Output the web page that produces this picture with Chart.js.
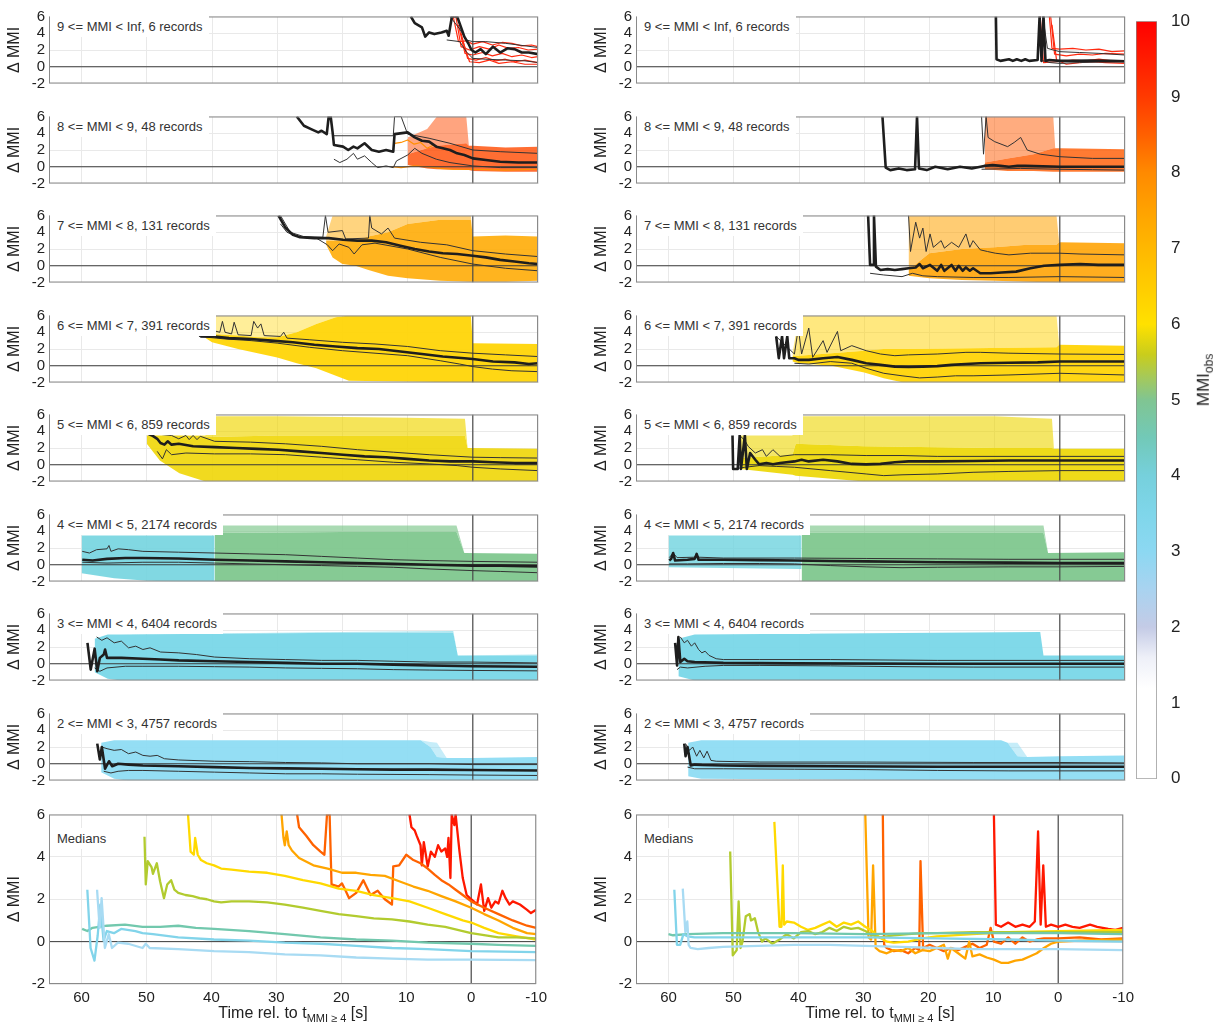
<!DOCTYPE html>
<html>
<head>
<meta charset="utf-8">
<script src="https://cdn.jsdelivr.net/npm/chart.js@4.4.1/dist/chart.umd.min.js"></script>
<style>
body{margin:0;width:1219px;height:1032px;background:#fff;position:relative;overflow:hidden;font-family:"Liberation Sans",Arial,Helvetica,sans-serif;}
canvas{position:absolute;}
.lbl{position:absolute;background:#fff;font-size:13px;color:#333;padding:3px 6px 3px 7px;white-space:nowrap;line-height:15px;}
.xt{position:absolute;font-size:16px;color:#222;white-space:nowrap;transform:translateX(-50%);}
.xt sub{font-size:11px;}
.cbt{position:absolute;font-size:17px;color:#222;white-space:nowrap;transform:translate(-50%,-50%) rotate(-90deg);}
.cbt sub{font-size:12px;}
</style>
</head>
<body>
<script>
Chart.defaults.font.family = '"Liberation Sans", Arial, sans-serif';
Chart.defaults.color = '#222';

// axis ranges
var tMin = -10, tMax = 65, dMin = -2, dMax = 6;
var zeroT = [tMin, tMax];
var zeroD = [dMin, dMax];

// colour bar (MMI_obs)
var cmapVals = [0, 1.2, 1.6, 2.0, 2.5, 3.0, 3.5, 4.0, 4.5, 5.0, 5.3, 5.6, 6.0, 6.5, 7.0, 7.5, 8.0, 8.5, 9.0, 9.5, 10];
var cmapColors = ['#ffffff','#ffffff','#eef0f8','#c4cbe6','#a9d3f0','#8cd8f2','#7fd6ea','#76d0dc','#72c9b8','#80c592','#a5c95a','#c9cd1c','#ffe100','#ffcc00','#ffb800','#ffa200','#ff8a00','#ff6000','#ff3a00','#ff1c00','#ff0000'];

// ---------- left column: time relative to t(MMI>=4), [t, value] ----------
var L9_med = [[9.5,6],[8.9,5.2],[7.8,4.7],[7.3,3.6],[6.7,4.1],[5.9,3.9],[4.8,4.1],[4.0,4.3],[3.7,3.7],[3.2,6],[2.4,6],[1.8,4.7],[1.3,3.6],[0.7,2.8],[0.2,2.0],[-0.4,1.7],[-1.2,2.1],[-2.0,1.5],[-3.1,2.4],[-4.2,1.7],[-5.3,2.2],[-6.4,2.1],[-7.5,1.7],[-8.6,1.7],[-10,1.5]];
var L9_hi = [[3.5,6],[2.0,4.5],[1.0,3.2],[0,3.0],[-2,3.0],[-5,2.8],[-8,2.5],[-10,2.3]];
var L9_lo = [[4.0,3.2],[2.0,3.0],[1.0,1.8],[0,1.0],[-2,0.9],[-5,0.8],[-8,0.7],[-10,0.5]];
var L9_recs = [
  [[3.0,6],[2.2,3.0],[1.0,3.1],[0,2.7],[-1.5,3.0],[-3,2.6],[-4.5,2.9],[-6,2.8],[-7.5,2.5],[-9,2.6],[-10,2.4]],
  [[2.6,6],[1.8,2.4],[0.5,2.0],[-1,2.4],[-2.5,2.1],[-4,2.6],[-5.5,2.2],[-7,2.3],[-8.5,2.0],[-10,2.1]],
  [[2.2,5],[1.2,1.6],[0,1.4],[-1.5,1.7],[-3,1.3],[-4.5,1.6],[-6,1.2],[-7.5,1.4],[-9,1.1],[-10,1.2]],
  [[1.8,4],[0.8,1.0],[-0.5,0.8],[-2,1.1],[-3.5,0.7],[-5,0.9],[-6.5,0.6],[-8,0.8],[-10,0.5]],
  [[1.5,3],[0.5,0.6],[-1,0.5],[-2.5,0.8],[-4,0.4],[-6,0.6],[-8,0.3],[-10,0.3]]
];

var L8_med = [[27,6],[25.9,4.9],[24.8,4.5],[23.7,4.1],[23.2,4.3],[22.4,3.9],[22.1,6],[21.8,6],[21.5,4.1],[21.3,2.6],[19.9,2.4],[19.1,2.0],[18.3,2.4],[17.7,2.2],[16.6,2.8],[15.5,2.0],[14.4,1.8],[13.3,2.0],[12.2,1.8],[12.0,3.9],[10.0,4.1],[8.9,3.5],[7.8,3.1],[6.7,3.0],[5.6,2.4],[4.6,2.2],[3.5,2.0],[2.4,1.6],[1.3,1.4],[0,1.0],[-2,0.8],[-4.2,0.6],[-7,0.5],[-10,0.5]];
var L8_hi = [[21.5,3.7],[12.2,3.7],[12.0,6],[11.0,6],[10.0,3.9],[6.7,3.4],[3.5,2.8],[0,2.0],[-4.2,1.8],[-10,1.6]];
var L8_lo = [[21.3,0.9],[20.4,0.5],[19.3,0.9],[18.3,1.6],[17.7,0.9],[16.6,1.3],[15.5,0.5],[14.6,-0.1],[13.3,0.1],[12.2,-0.1],[11.7,0.7],[10.0,1.4],[8.9,2.2],[7.8,1.6],[5.6,0.9],[3.5,0.5],[0,0.1],[-4.2,-0.1],[-10,-0.1]];
var L8_recs = [
  [[12.5,0],[11,-0.1],[9,0.1],[7,0],[5,-0.2],[3,-0.3],[0,-0.3],[-5,-0.4],[-10,-0.3]],
  [[12,2.8],[11,2.9],[10,3.2],[9,2.7],[8,2.9],[7,2.2],[6,2.6],[5,2.3]]
];
var L8_band = [[10,0.2,1.5,3.5],[7,-0.2,2.2,4.5],[5.5,-0.3,2.5,6],[1,-0.4,2.8,6],[0.6,-0.4,2.5,2.5],[0,-0.5,2.5,2.5],[-5,-0.6,2.3,2.3],[-10,-0.6,2.4,2.4]];

var L7_med = [[29.8,6],[28.7,4.5],[27.6,3.7],[26.5,3.4],[24.3,3.3],[22.1,3.3],[19.9,3.1],[17.7,3.0],[15.5,3.0],[13.3,2.8],[11.1,2.4],[8.9,2.0],[6.7,1.7],[4.6,1.5],[2.4,1.4],[0,1.2],[-2,1.0],[-4.2,0.7],[-6.4,0.5],[-8.6,0.3],[-10,0.2]];
var L7_hi = [[29.5,6],[28,4.0],[26,3.5],[23,3.4],[22.6,6],[22.2,4.0],[20,4.2],[19.5,3.2],[16,3.3],[15.8,6],[15.5,4.5],[14,3.8],[13,4.5],[12,3.3],[8,2.8],[4,2.5],[0,1.8],[-5,1.4],[-10,1.1]];
var L7_lo = [[29.5,5.0],[28.5,4.0],[27,3.5],[24,3.3],[22.3,2.5],[21.5,1.8],[20.5,2.6],[19,2.2],[18.2,1.4],[17,2.5],[15,2.7],[10,2.0],[5,1.0],[0,0.2],[-5,-0.3],[-10,-0.6]];
var L7_band = [[22.5,2.5,3.0,3.5],[21.5,1.0,3.0,6],[20,0.2,3.0,6],[18,0,3.0,6],[16,-0.5,3.5,6],[13,-1.2,4.0,6],[10,-1.5,5.0,6],[5,-1.8,5.5,6],[0.3,-1.9,5.5,6],[0,-1.9,3.5,3.5],[-5,-1.9,3.6,3.6],[-10,-1.8,3.5,3.5]];

var L6_med = [[41.8,3.5],[39.6,3.5],[37.4,3.3],[34.1,3.2],[30.9,3.0],[27.6,2.8],[24.3,2.5],[21.0,2.3],[17.7,2.1],[14.4,2.0],[11.1,1.7],[7.8,1.4],[4.6,1.1],[1.3,0.9],[0,0.8],[-3.1,0.5],[-6.4,0.4],[-8.6,0.2],[-10,0.3]];
var L6_hi = [[40.5,4.0],[40.2,5.5],[39.8,4.2],[38.8,4.0],[38.4,5.3],[38,4.0],[37,3.8],[36.6,5.2],[36,3.7],[34,3.6],[33.6,5.3],[33,4.5],[32.5,5.0],[32,3.6],[29.5,3.5],[29,4.0],[28.5,3.3],[25,3.1],[20,2.8],[15,2.6],[10,2.3],[5,1.8],[0,1.5],[-5,1.3],[-10,1.1]];
var L6_lo = [[42,3.5],[38,3.2],[34,3.0],[30,2.7],[25,2.2],[20,1.8],[15,1.5],[10,1.2],[5,0.6],[2,0.2],[0,-0.1],[-3,-0.4],[-6,-0.6],[-10,-0.7]];
var L6_band = [[41,3.3,3.8,3.8],[40,2.8,3.8,6],[36,2.0,3.6,6],[33,1.5,3.4,6],[30,1.0,3.4,6],[27,0.3,4.0,6],[24,-0.3,5.0,6],[21,-1.2,5.8,6],[19,-1.8,6,6],[0.3,-2,6,6],[0,-2,2.7,2.7],[-10,-2,2.6,2.6]];

var L5_med = [[49.8,3.7],[49.2,3.5],[48.4,3.1],[47.9,2.6],[47.3,2.4],[46.8,2.8],[46.2,2.4],[45.1,2.5],[42.9,2.2],[39.6,2.1],[36.3,2.0],[33.1,1.9],[29.8,1.8],[26.5,1.6],[23.2,1.4],[19.9,1.2],[16.6,1.0],[13.3,0.9],[10.0,0.7],[6.7,0.5],[3.5,0.4],[0,0.4],[-3.1,0.3],[-6.4,0.2],[-10,0.2]];
var L5_hi = [[49,3.7],[46.2,3.5],[45.1,3.1],[44,3.5],[43.5,3.0],[42.9,3.5],[42.3,3.0],[41.8,3.4],[39.6,2.8],[34.1,2.7],[28.7,2.5],[23.2,2.2],[17.7,1.8],[12.2,1.5],[6.7,1.2],[0,0.9],[-4.2,0.85],[-10,0.8]];
var L5_lo = [[48.4,1.6],[47.6,0.7],[47.0,1.8],[46.2,1.2],[44,1.4],[39.6,1.3],[34.1,1.3],[28.7,1.2],[23.2,0.9],[17.7,0.6],[12.2,0.3],[6.7,0.1],[2.4,-0.1],[0,-0.3],[-4.2,-0.5],[-10,-0.7]];
var L5_band = [[50,2.5,3.5,3.5],[48,0.5,3.5,3.5],[45,-1.0,3.5,3.5],[41,-2,3.4,3.5],[40.5,-2,3.3,5.8],[30,-2,3.5,5.8],[20,-2,3.5,5.7],[10,-2,3.5,5.6],[1.2,-2,3.5,5.5],[0.8,-2,2.0,2.0],[-10,-2,1.9,1.9]];

var L4_med = [[59.9,0.6],[58.3,0.5],[56.1,0.7],[53.3,0.8],[50.6,0.8],[45.1,0.75],[39.6,0.6],[34.2,0.5],[28.7,0.4],[23.2,0.3],[17.7,0.2],[12.2,0.1],[6.7,0],[0,-0.1],[-4.2,-0.1],[-10,-0.2]];
var L4_hi = [[59.9,1.6],[58.8,1.4],[57.7,1.8],[56.1,1.9],[55.8,2.3],[55.5,1.6],[54.4,1.9],[52.8,1.8],[50.6,1.6],[45.1,1.5],[39.6,1.4],[34.2,1.3],[28.7,1.2],[23.2,1.0],[17.7,0.8],[12.2,0.6],[6.7,0.5],[0,0.4],[-10,0.3]];
var L4_lo = [[59.9,0.3],[56.1,0.2],[50.6,0.3],[45.1,0.3],[39.6,0.2],[34.2,0.1],[28.7,0],[23.2,-0.1],[17.7,-0.2],[12.2,-0.3],[6.7,-0.5],[0,-0.7],[-4.2,-0.8],[-10,-0.95]];
var L4_bandA = [[60,-1.0,3.5,3.5],[55,-1.6,3.5,3.5],[50,-1.9,3.5,3.5],[45,-2,3.5,3.5],[39.6,-2,3.5,3.5]];
var L4_bandB = [[39.6,-2,3.8,4.7],[20,-2,3.9,4.7],[2.5,-2,3.9,4.7],[1.3,-2,1.4,1.4],[-10,-2,1.3,1.3]];

var L3_med = [[59.1,2.5],[58.6,-0.7],[58.0,1.8],[57.6,-0.9],[57.2,0.7],[56.6,1.1],[56.4,1.7],[56.1,0.7],[53.9,0.7],[50.6,0.6],[47.9,0.5],[45.1,0.4],[39.6,0.3],[34.2,0.2],[28.7,0.1],[23.2,0],[17.7,0],[12.2,-0.1],[6.7,-0.2],[0,-0.3],[-10,-0.35]];
var L3_hi = [[57.7,3.2],[56.9,2.8],[56.1,3.1],[55.0,2.5],[53.9,2.7],[52.8,1.9],[51.7,2.1],[50.6,1.7],[49.5,1.9],[47.9,1.4],[45.1,1.3],[42.4,1.1],[39.6,0.8],[34.2,0.6],[28.7,0.5],[23.2,0.4],[17.7,0.4],[12.2,0.3],[6.7,0.2],[0,0.2],[-10,0.1]];
var L3_lo = [[58.0,-0.5],[57.2,-0.9],[56.1,-0.5],[53.3,-0.3],[50.6,-0.3],[45.1,-0.3],[39.6,-0.35],[34.2,-0.4],[28.7,-0.5],[23.2,-0.55],[17.7,-0.6],[12.2,-0.7],[6.7,-0.75],[0,-0.8],[-10,-0.85]];
var L3_band = [[58,-1.0,3.0,3.0],[56,-1.8,3.5,3.5],[54,-2,3.5,3.5],[20,-2,3.7,3.8],[3,-2,3.7,3.9],[2.3,-2,1.0,1.0],[-10,-2,1.0,1.1]];

var L2_med = [[57.6,2.4],[57.2,0.5],[56.9,2.0],[56.4,-0.6],[55.8,0.3],[55.3,-0.3],[54.4,0],[52.8,-0.1],[50.6,-0.2],[45.1,-0.3],[39.6,-0.4],[34.2,-0.5],[28.7,-0.55],[23.2,-0.6],[17.7,-0.65],[12.2,-0.7],[6.7,-0.7],[0,-0.75],[-10,-0.8]];
var L2_hi = [[56.9,2.0],[56.1,1.8],[55.0,1.6],[53.9,1.7],[52.8,1.2],[51.7,1.4],[50.6,1.0],[49.5,0.9],[48.4,1.0],[47.3,0.6],[45.1,0.45],[39.6,0.3],[34.2,0.25],[28.7,0.15],[23.2,0.1],[17.7,0],[6.7,0],[0,-0.1],[-10,-0.1]];
var L2_lo = [[56.6,-0.9],[55.5,-1.1],[54.4,-0.9],[52.8,-0.8],[50.6,-0.8],[45.1,-0.9],[39.6,-1.0],[34.2,-1.1],[28.7,-1.2],[23.2,-1.2],[17.7,-1.25],[6.7,-1.3],[0,-1.35],[-10,-1.4]];
var L2_band = [[57,-1.0,2.5,2.5],[55,-1.8,2.8,2.8],[53,-2,2.8,2.8],[8,-2,2.8,2.8],[6.5,-2,2.0,2.6],[5.5,-2,0.8,2.5],[4.0,-2,0.7,0.7],[0,-2,0.7,0.7],[-10,-2,0.8,0.8]];

// ---------- right column ----------
var R9_med = [[9.8,6],[9.7,0.9],[9.1,0.7],[7.8,0.9],[7.2,0.7],[6.6,0.9],[5.9,0.7],[5.3,0.9],[4.7,0.7],[3.4,0.8],[3.1,6],[2.8,0.7],[2.5,6],[2.2,0.7],[1.6,0.8],[0,0.7],[-1.6,0.7],[-4.7,0.75],[-7.8,0.7],[-10,0.65]];
var R9_hi = [[2.6,6],[1.9,2.2],[1.0,2.0],[0,1.8],[-3,1.7],[-6,1.6],[-10,1.4]];
var R9_lo = [[3.0,0.8],[1.5,0.5],[0,0.4],[-3,0.5],[-6,0.55],[-10,0.6]];
var R9_recs = [
  [[1.6,6],[1.2,2.2],[0,2.1],[-2,2.2],[-4,2.0],[-6,2.1],[-8,1.8],[-10,1.9]],
  [[1.4,6],[0.8,1.5],[-1,1.3],[-3,1.5],[-5,1.4],[-7,1.6],[-10,1.5]],
  [[1.2,5],[0.5,0.8],[-1,0.3],[-3,0.5],[-5,0.6],[-7,0.5],[-10,0.4]],
  [[3.0,6],[2.5,0.5],[0.5,0.6],[-2,0.8],[-4,0.7],[-6,0.9],[-8,0.7],[-10,0.6]]
];

var R8_med = [[27.2,6],[26.7,-0.1],[26.0,-0.4],[24.7,-0.2],[23.5,-0.4],[22.2,-0.3],[21.9,6],[21.6,-0.2],[20.4,-0.4],[19.1,0],[17.2,-0.3],[15.3,0],[13.5,-0.2],[11.6,0.1],[10.3,0.2],[9.1,0.1],[7.8,0],[6.5,0.1],[5.3,0.1],[0,0],[-4.7,0],[-10,0]];
var R8_hi = [[12.0,6],[11.7,1.5],[11.3,6],[11.0,3.5],[10,3.0],[8,2.4],[7,2.9],[6,3.5],[5,2.0],[3,1.5],[0,1.2],[-5,1.0],[-10,1.0]];
var R8_lo = [[12.0,-0.3],[6,-0.2],[0,-0.3],[-5,-0.35],[-10,-0.4]];
var R8_band = [[11.5,-0.3,0.5,6],[8,-0.5,1.0,6],[4,-0.5,1.5,6],[1.0,-0.6,2.2,6],[0.7,-0.6,2.2,2.2],[0,-0.6,2.2,2.2],[-10,-0.6,2.1,2.1]];

var R7_med = [[29.4,6],[29.1,0.1],[28.6,0.1],[28.5,6],[28.2,-0.1],[27.5,-0.5],[26.4,-0.4],[25.3,-0.5],[24.2,-0.4],[23.2,-0.3],[22.1,-0.2],[21.5,0.2],[21.0,-0.3],[19.9,0.1],[18.8,-0.6],[18.2,0.1],[17.7,-0.6],[16.6,0.1],[16.0,-0.6],[15.5,0],[14.9,-0.6],[14.4,-0.2],[13.8,-0.6],[13.3,-0.3],[12.2,-0.9],[10.6,-0.9],[8.9,-0.8],[6.7,-0.7],[4.5,-0.3],[2.4,0],[0,0.1],[-3.1,0.2],[-5.9,0.1],[-10,0.1]];
var R7_hi = [[23.2,6],[22.9,1.7],[22.1,5.2],[21.5,3.3],[21.0,4.5],[20.5,1.7],[19.9,3.8],[19.4,2.2],[18.2,3.0],[17.7,2.1],[16.6,2.8],[15.5,2.2],[14.4,3.8],[13.8,2.2],[13.3,3.0],[12.2,1.9],[11.1,1.7],[9.9,1.5],[7.8,1.3],[4.5,1.5],[0,1.5],[-3.1,1.4],[-10,1.3]];
var R7_lo = [[29.1,-0.9],[27.0,-1.1],[24.2,-1.3],[22.6,-0.9],[21.0,-1.2],[18.8,-1.3],[13.3,-1.4],[7.8,-1.4],[0,-1.3],[-10,-1.4]];
var R7_band = [[23.2,-1.2,-0.5,6],[20,-1.5,1.5,6],[15,-1.7,2.0,6],[10,-1.8,2.2,6],[5,-1.9,2.5,6],[0.5,-2,2.5,6],[0.1,-2,2.8,2.8],[-10,-2,2.7,2.7]];

var R6_med = [[43.5,3.5],[43.1,0.9],[42.6,3.5],[42.3,0.9],[41.8,3.5],[41.5,0.9],[40.7,0.9],[40.1,0.7],[38.5,0.7],[36.3,0.9],[34.1,1.05],[31.9,0.7],[29.7,0.3],[27.5,0.1],[25.3,-0.1],[23.2,-0.15],[21.0,-0.1],[18.8,-0.05],[16.6,0.1],[14.4,0.2],[12.2,0.3],[7.8,0.35],[3.4,0.4],[0,0.5],[-3.1,0.5],[-10,0.5]];
var R6_hi = [[43.5,3.5],[40.7,1.4],[40.1,4.5],[39.6,1.4],[38.5,4.5],[37.9,1.0],[36.3,3.0],[35.7,1.6],[34.1,4.1],[33.6,1.8],[31.9,2.4],[29.7,1.8],[27.5,1.4],[25.3,1.2],[23.2,1.3],[18.8,1.4],[14.4,1.6],[12.2,1.6],[7.8,1.5],[0,1.4],[-10,1.35]];
var R6_lo = [[40.7,0.3],[38.5,0.2],[35.2,0.5],[31.9,0.3],[29.7,-0.3],[27.0,-0.9],[24.2,-1.2],[21.5,-1.45],[18.8,-1.35],[16.0,-1.2],[13.3,-1.2],[7.8,-1.1],[0,-0.9],[-10,-1.1]];
var R6_band = [[41,0.5,1.2,1.5],[40,0.3,1.2,6],[35,0,1.5,6],[30,-0.8,1.8,6],[27,-1.5,2.0,6],[24,-2,2.0,6],[0.5,-2,2.2,6],[0.1,-2,2.5,2.5],[-10,-2,2.4,2.4]];

var R5_med = [[50.2,3.5],[50.1,-0.5],[49.4,-0.5],[49.1,3.5],[48.9,-0.5],[48.3,3.5],[48.0,-0.5],[47.5,1.4],[46.7,0.6],[46.1,0.05],[45.0,0.2],[44.0,0.05],[42.9,0.2],[40.7,0.4],[39.6,0.6],[38.5,0.4],[36.3,0.6],[34.1,0.4],[31.9,0.1],[29.7,0.05],[27.5,0.1],[25.3,0.3],[23.2,0.4],[18.8,0.4],[13.3,0.45],[7.8,0.5],[0,0.5],[-10,0.5]];
var R5_hi = [[49.1,3.5],[48.3,2.9],[47.8,2.2],[46.7,1.4],[45.6,1.8],[45.0,1.0],[44.0,1.8],[42.9,1.0],[40.7,1.2],[35.2,1.2],[29.7,1.1],[24.2,1.1],[18.8,1.0],[0,1.0],[-10,1.0]];
var R5_lo = [[50.0,-0.5],[48.3,-0.3],[46.1,-0.1],[43.4,-0.2],[40.7,-0.3],[35.2,-0.7],[29.7,-1.1],[27.0,-1.3],[24.2,-1.2],[18.8,-1.1],[13.3,-0.9],[7.8,-0.8],[0,-0.7],[-10,-0.7]];
var R5_band = [[49,-0.5,0.8,3.5],[41,-1.2,1.2,3.5],[40.5,-1.3,2.5,5.8],[30,-2,2.2,5.8],[10,-2,2.0,5.8],[1.2,-2,2.0,5.5],[0.9,-2,1.9,1.9],[-10,-2,1.9,1.9]];

var R4_med = [[59.9,0.5],[59.6,0.7],[59.3,1.4],[59.0,0.5],[57.1,0.6],[56.0,0.7],[55.7,1.3],[55.4,0.6],[51.6,0.6],[46.1,0.55],[40.7,0.5],[35.2,0.45],[29.7,0.4],[24.2,0.35],[18.8,0.3],[7.8,0.25],[0,0.2],[-10,0.2]];
var R4_hi = [[59.9,0.85],[59.3,1.4],[58.7,0.85],[56.0,0.9],[55.7,1.3],[55.4,0.9],[51.6,0.8],[40.7,0.8],[29.7,0.75],[18.8,0.7],[7.8,0.65],[0,0.65],[-10,0.65]];
var R4_lo = [[59.9,0.1],[57.1,0.1],[51.6,0.15],[46.1,0.15],[40.7,0.1],[35.2,-0.1],[29.7,-0.25],[24.2,-0.35],[18.8,-0.3],[7.8,-0.25],[0,-0.25],[-10,-0.2]];
var R4_bandA = [[60,-0.3,3.5,3.5],[40,-0.5,3.5,3.5],[39.6,-0.5,3.5,3.5]];
var R4_bandB = [[39.6,-2,3.8,4.7],[2.5,-2,3.8,4.7],[1.8,-2,1.4,1.4],[-10,-2,1.5,1.5]];

var R3_med = [[59.0,2.5],[58.7,-0.2],[58.5,3.2],[58.2,0.2],[57.6,0.6],[57.1,0.3],[56.0,0.2],[51.6,0.1],[40.7,0.05],[18.8,0],[0,0],[-10,0]];
var R3_hi = [[58.2,3.2],[57.6,2.5],[57.1,2.8],[56.5,2.1],[56.0,2.5],[55.4,1.7],[54.9,1.3],[54.4,1.5],[53.8,1.0],[52.7,0.6],[51.6,0.5],[46.1,0.5],[35.2,0.5],[18.8,0.4],[0,0.4],[-10,0.4]];
var R3_lo = [[58.7,-0.7],[58.2,-0.4],[57.1,-0.5],[54.4,-0.3],[51.6,-0.2],[46.1,-0.2],[35.2,-0.25],[24.2,-0.35],[13.3,-0.4],[0,-0.4],[-10,-0.4]];
var R3_band = [[58.5,-1.5,3.0,3.0],[56,-2,3.5,3.5],[3,-2,3.8,3.8],[2.5,-2,1.0,1.0],[-10,-2,1.0,1.0]];

var R2_med = [[57.6,2.4],[57.4,0.9],[57.1,2.0],[56.6,-0.2],[56.0,-0.1],[54.9,-0.15],[51.6,-0.2],[46.1,-0.25],[35.2,-0.3],[18.8,-0.35],[0,-0.35],[-10,-0.35]];
var R2_hi = [[57.4,2.4],[56.8,1.6],[56.3,2.0],[55.7,0.9],[55.2,1.6],[54.6,0.7],[54.1,1.5],[53.5,0.4],[52.7,0.3],[46.1,0.2],[29.7,0.2],[13.3,0.15],[0,0.15],[-10,0.1]];
var R2_lo = [[57.1,-0.4],[56.0,-0.6],[51.6,-0.6],[40.7,-0.65],[29.7,-0.7],[18.8,-0.8],[7.8,-0.85],[0,-0.85],[-10,-0.85]];
var R2_band = [[57,-1.5,2.5,2.5],[55,-1.8,2.8,2.8],[9,-2,2.8,2.8],[8,-2,2.5,2.5],[6.5,-2,0.9,2.5],[5,-2,0.8,0.8],[0,-2,0.9,0.9],[-10,-2,1.0,1.0]];

// ---------- medians panels ----------
var ML2 = [[57.6,2.45],[57.2,0.65],[56.9,2.05],[56.4,-0.3],[55.8,0.35],[55.3,-0.3],[54.4,-0.05],[52.8,-0.1],[50.6,-0.3],[50.1,-0.1],[49.5,-0.3],[45.1,-0.35],[39.6,-0.45],[34.2,-0.5],[28.7,-0.6],[23.2,-0.65],[17.7,-0.75],[12.2,-0.8],[6.7,-0.85],[0,-0.85],[-10,-0.87]];
var ML3 = [[59.1,2.45],[58.6,-0.3],[58.0,-0.9],[57.5,0.3],[57.1,1.75],[56.6,0.05],[56.1,0.5],[55.0,0.4],[53.9,0.6],[51.7,0.5],[50.6,0.4],[49.0,0.35],[45.1,0.2],[39.6,0.1],[34.2,0.05],[28.7,-0.05],[23.2,-0.1],[17.7,-0.2],[12.2,-0.3],[6.7,-0.35],[0,-0.45],[-10,-0.5]];
var ML4 = [[59.9,0.6],[59.1,0.5],[58.3,0.65],[56.1,0.75],[53.3,0.8],[50.6,0.7],[47.9,0.7],[45.1,0.75],[42.4,0.65],[39.6,0.6],[34.2,0.5],[28.7,0.35],[23.2,0.2],[17.7,0.1],[12.2,0.05],[6.7,-0.05],[0,-0.1],[-4.2,-0.15],[-10,-0.2]];
var ML5 = [[50.3,4.95],[50.1,2.7],[49.8,3.8],[49.2,3.5],[49.0,3.2],[48.4,3.7],[47.9,2.85],[47.3,2.05],[46.8,2.7],[46.2,2.9],[45.7,2.45],[45.1,2.3],[44.0,2.2],[42.9,2.15],[41.8,2.05],[40.7,2.0],[39.6,1.9],[38.5,1.85],[36.9,1.9],[34.2,1.9],[31.4,1.85],[28.7,1.75],[25.9,1.6],[23.2,1.45],[20.4,1.3],[17.7,1.2],[15.0,1.1],[12.2,1.05],[9.5,0.95],[6.7,0.8],[4.0,0.7],[1.3,0.5],[0,0.4],[-4.2,0.2],[-7.0,0.2],[-10,0.15]];
var ML6 = [[43.6,6],[43.2,4.25],[42.7,4.1],[42.5,4.9],[42.1,4.1],[41.6,3.85],[40.7,3.7],[39.6,3.6],[38.5,3.45],[36.9,3.4],[34.2,3.3],[31.4,3.25],[28.7,3.1],[25.9,2.9],[23.2,2.75],[20.4,2.5],[17.7,2.4],[15.0,2.2],[12.2,2.05],[9.5,1.9],[6.7,1.6],[4.0,1.3],[1.3,1.0],[0,0.9],[-2.0,0.65],[-4.2,0.4],[-7.0,0.25],[-10,0.1]];
var ML7 = [[29.2,6],[28.9,4.9],[28.7,4.55],[28.4,5.2],[28.1,4.55],[27.6,4.3],[26.5,3.95],[24.3,3.6],[22.1,3.45],[19.9,3.25],[17.7,3.25],[15.5,3.15],[13.3,3.1],[11.1,2.85],[8.9,2.6],[6.7,2.4],[4.6,2.15],[2.4,1.9],[0,1.6],[-2.0,1.3],[-4.2,1.0],[-6.4,0.65],[-8.6,0.4],[-10,0.35]];
var ML8 = [[26.8,6],[26.5,5.4],[25.4,5.0],[24.3,4.55],[23.2,4.25],[22.6,4.1],[22.2,6],[21.8,6],[21.5,2.7],[20.4,2.6],[19.9,2.75],[19.4,2.45],[18.8,2.05],[17.7,2.3],[16.6,2.9],[15.5,2.2],[14.4,2.4],[13.3,2.0],[12.2,1.75],[12.0,3.55],[11.1,3.6],[10.0,4.1],[8.9,3.85],[7.8,3.7],[6.7,3.45],[5.6,3.15],[4.6,2.9],[3.5,2.7],[2.4,2.45],[1.3,2.2],[0,1.9],[-2.0,1.6],[-4.2,1.3],[-6.4,1.0],[-8.6,0.75],[-10,0.65]];
var ML9 = [[9.5,6],[9.2,5.4],[8.7,5.25],[8.4,5.0],[7.8,4.55],[7.6,3.6],[7.3,4.7],[6.7,3.55],[6.2,4.25],[5.6,4.0],[5.1,4.55],[4.6,4.25],[4.0,4.4],[3.7,4.0],[3.5,4.9],[3.2,3.0],[3.0,6],[2.6,5.5],[2.4,6],[1.8,4.25],[1.3,3.0],[0.7,2.2],[0.2,2.05],[-0.4,1.9],[-0.9,1.75],[-1.5,2.7],[-2.0,1.45],[-2.6,2.05],[-3.1,1.6],[-3.7,1.9],[-4.2,1.8],[-4.8,2.4],[-5.3,2.05],[-5.9,1.75],[-6.4,1.9],[-7.5,1.75],[-8.6,1.5],[-9.2,1.35],[-10,1.5]];

var MR2 = [[57.8,2.5],[57.4,0.45],[57.1,0.95],[56.9,-0.15],[56.6,-0.3],[55.5,-0.35],[53.8,-0.3],[51.6,-0.25],[46.2,-0.2],[40.7,-0.15],[35.2,-0.15],[29.7,-0.2],[24.2,-0.25],[18.7,-0.3],[13.2,-0.35],[0,-0.35],[-10,-0.4]];
var MR3 = [[59.1,2.45],[58.7,-0.15],[58.2,-0.15],[57.7,0.35],[57.1,0.25],[56.0,0.2],[51.6,0.2],[40.7,0.2],[29.7,0.2],[18.7,0.15],[7.7,0.1],[0,0.05],[-10,0]];
var MR4 = [[60,0.35],[59.3,0.3],[57.1,0.35],[51.6,0.4],[40.7,0.4],[29.7,0.35],[18.7,0.4],[0,0.4],[-10,0.35]];
var MR5 = [[50.5,4.25],[50.1,-0.65],[49.5,-0.4],[49.2,1.9],[48.9,-0.3],[48.6,0],[48.1,1.2],[47.5,1.3],[47.3,1.0],[46.7,1.1],[46.2,0.45],[45.6,0],[45.1,0.15],[44.0,-0.1],[42.9,0.1],[41.8,0.35],[40.7,0.15],[39.6,0.45],[38.5,0.5],[37.4,0.35],[36.3,0.45],[35.2,0.65],[34.1,0.5],[33.0,0.7],[31.9,0.6],[30.8,0.65],[29.7,0.5],[28.6,0.3],[27.5,0.2],[25.3,0.3],[23.1,0.35],[20.9,0.4],[18.7,0.4],[13.2,0.45],[7.7,0.45],[0,0.45],[-10,0.45]];
var MR6 = [[43.7,5.65],[42.9,0.7],[42.6,0.7],[42.4,3.6],[42.2,0.8],[41.8,0.95],[40.7,0.9],[39.6,0.7],[38.5,0.55],[37.4,0.65],[36.3,0.8],[35.2,0.95],[34.1,0.7],[33.0,0.9],[31.9,0.8],[30.8,0.95],[29.7,0.7],[28.6,0.5],[27.5,0.2],[26.4,0],[25.3,-0.05],[23.1,0],[20.9,0.15],[18.7,0.25],[13.2,0.35],[7.7,0.45],[0,0.5],[-10,0.55]];
var MR7 = [[29.7,6],[29.2,0.2],[28.8,0.1],[28.5,3.6],[28.1,-0.3],[27.5,-0.45],[26.4,-0.55],[25.3,-0.4],[24.2,-0.45],[23.1,-0.3],[22.0,-0.55],[20.9,-0.4],[19.8,-0.45],[18.7,-0.3],[17.6,-0.15],[17.0,-0.8],[16.5,-0.3],[15.4,-0.55],[14.3,-0.8],[13.7,0],[13.2,-0.7],[12.1,-0.6],[11.0,-0.75],[9.9,-0.85],[8.8,-1.0],[7.7,-1.0],[6.6,-0.9],[5.5,-0.85],[4.4,-0.7],[3.3,-0.55],[2.2,-0.3],[1.1,-0.1],[0,0],[-3.3,0.05],[-10,0.1]];
var MR8 = [[27.0,6],[26.8,-0.15],[26.4,-0.3],[25.3,-0.45],[24.2,-0.4],[23.1,-0.55],[22.0,-0.3],[21.4,-0.4],[21.2,3.8],[20.8,-0.3],[19.8,-0.15],[18.7,-0.3],[17.6,-0.45],[16.5,-0.3],[15.4,-0.4],[14.3,-0.25],[13.2,-0.1],[12.1,-0.3],[11.0,-0.15],[10.4,0.65],[9.9,0],[8.8,-0.1],[7.7,0.2],[6.6,-0.1],[5.5,0.2],[4.4,0],[3.3,0.1],[2.2,0.15],[0,0.15],[-3.3,0.2],[-6.6,0.1],[-10,0.15]];
var MR9 = [[9.9,6],[9.6,0.8],[8.8,0.7],[7.7,0.9],[6.6,0.7],[5.5,0.8],[4.4,0.7],[3.6,0.95],[3.1,5.2],[2.7,0.8],[2.3,3.6],[1.9,0.7],[1.1,0.8],[0,0.7],[-1.1,0.8],[-2.2,0.7],[-3.3,0.65],[-4.9,0.8],[-6.0,0.7],[-7.7,0.6],[-8.8,0.55],[-10,0.65]];

var medLabels = ['2 <= MMI < 3','3 <= MMI < 4','4 <= MMI < 5','5 <= MMI < 6','6 <= MMI < 7','7 <= MMI < 8','8 <= MMI < 9','9 <= MMI < Inf'];

// ---------- helpers ----------
function xy(p) { return p.map(function (r) { return {x: r[0], y: r[1]}; }); }
function col(p, k) { return p.map(function (r) { return {x: r[0], y: r[k]}; }); }
function rgba(hex, a) {
  var n = parseInt(hex.slice(1), 16);
  return 'rgba(' + (n >> 16) + ',' + ((n >> 8) & 255) + ',' + (n & 255) + ',' + a + ')';
}
function line(data, color, width, order) {
  return {data: xy(data), borderColor: color, borderWidth: width, order: order, fill: false};
}
var clear = 'rgba(0,0,0,0)';
function bandSets(b) {
  return [
    {data: col(b.d, 1), borderColor: clear, borderWidth: 0, fill: false, order: 10},
    {data: col(b.d, 2), borderColor: clear, borderWidth: 0, fill: '-1', backgroundColor: rgba(b.c, b.ca), order: 10},
    {data: col(b.d, 3), borderColor: clear, borderWidth: 0, fill: '-1', backgroundColor: rgba(b.c, b.ta), order: 10}
  ];
}
function refSets() {
  return [
    {data: [{x: zeroT[0], y: 0}, {x: zeroT[1], y: 0}], borderColor: '#3a3a3a', borderWidth: 1, order: 4, fill: false},
    {data: [{x: 0, y: zeroD[0]}, {x: 0, y: zeroD[1]}], borderColor: '#4a4a4a', borderWidth: 1.2, order: 4, fill: false}
  ];
}

var framePlugin = {
  id: 'frame',
  afterDatasetsDraw: function (chart) {
    var a = chart.chartArea, c = chart.ctx;
    c.save();
    c.strokeStyle = '#8a8a8a';
    c.lineWidth = 1;
    c.strokeRect(a.left + 0.5, a.top + 0.5, a.right - a.left - 1, a.bottom - a.top - 1);
    c.restore();
  }
};

function addCanvas(left, top, w, h) {
  var c = document.createElement('canvas');
  c.width = w; c.height = h;
  c.style.left = left + 'px'; c.style.top = top + 'px';
  c.style.width = w + 'px'; c.style.height = h + 'px';
  document.body.appendChild(c);
  return c;
}
function addLabel(left, top, html, cls) {
  var d = document.createElement('div');
  d.className = cls;
  d.style.left = left + 'px';
  d.style.top = top + 'px';
  d.innerHTML = html;
  document.body.appendChild(d);
}

function panelChart(left, top, h, bottomAxis, datasets) {
  var padTop = 10, padRight = 14, xH = bottomAxis ? 26 : 10;
  var cv = addCanvas(left, top - padTop, 49 + 489 + padRight, padTop + h + xH);
  return new Chart(cv, {
    type: 'line',
    data: {datasets: datasets},
    options: {
      responsive: false, animation: false, events: [],
      layout: {padding: {top: padTop, right: padRight, left: 0, bottom: 0}},
      plugins: {legend: {display: false}, tooltip: {enabled: false}},
      elements: {point: {radius: 0}, line: {tension: 0, borderJoinStyle: 'round'}},
      scales: {
        x: {
          type: 'linear', min: tMin, max: tMax, reverse: true,
          afterFit: function (s) { s.height = xH; },
          grid: {color: '#e9e9e9', drawTicks: false}, border: {display: false},
          ticks: {display: bottomAxis, stepSize: 10, includeBounds: false, autoSkip: false, font: {size: 15}, padding: 5, maxRotation: 0}
        },
        y: {
          min: dMin, max: dMax,
          afterFit: function (s) { s.width = 49; },
          grid: {color: '#e9e9e9', drawTicks: false}, border: {display: false},
          ticks: {stepSize: 2, autoSkip: false, font: {size: 15, lineHeight: 1}, padding: 4},
          title: {display: true, text: 'Δ MMI', font: {size: 16}, padding: {top: 5, bottom: 0}}
        }
      }
    },
    plugins: [framePlugin]
  });
}

// ---------- panel definitions ----------
var panelTops = [15, 115, 214, 314, 413, 513, 612, 712];
var colLefts = [0, 587];

var leftPanels = [
  {label: '9 &lt;= MMI &lt; Inf, 6 records', bands: [], recs: L9_recs, rc: '#ff2a10', med: L9_med, hi: L9_hi, lo: L9_lo},
  {label: '8 &lt;= MMI &lt; 9, 48 records', bands: [{d: L8_band, c: '#ff4a00', ca: 0.8, ta: 0.5}], recs: L8_recs, rc: '#ff9000', med: L8_med, hi: L8_hi, lo: L8_lo},
  {label: '7 &lt;= MMI &lt; 8, 131 records', bands: [{d: L7_band, c: '#ffaa00', ca: 0.88, ta: 0.5}], recs: [], med: L7_med, hi: L7_hi, lo: L7_lo},
  {label: '6 &lt;= MMI &lt; 7, 391 records', bands: [{d: L6_band, c: '#ffd400', ca: 0.92, ta: 0.4}], recs: [], med: L6_med, hi: L6_hi, lo: L6_lo},
  {label: '5 &lt;= MMI &lt; 6, 859 records', bands: [{d: L5_band, c: '#efd500', ca: 0.88, ta: 0.65}], recs: [], med: L5_med, hi: L5_hi, lo: L5_lo},
  {label: '4 &lt;= MMI &lt; 5, 2174 records', bands: [{d: L4_bandA, c: '#6fd3de', ca: 0.88, ta: 0.88}, {d: L4_bandB, c: '#7cc68b', ca: 0.92, ta: 0.65}], recs: [], med: L4_med, hi: L4_hi, lo: L4_lo},
  {label: '3 &lt;= MMI &lt; 4, 6404 records', bands: [{d: L3_band, c: '#79d7e8', ca: 0.95, ta: 0.6}], recs: [], med: L3_med, hi: L3_hi, lo: L3_lo},
  {label: '2 &lt;= MMI &lt; 3, 4757 records', bands: [{d: L2_band, c: '#8edcf3', ca: 0.95, ta: 0.5}], recs: [], med: L2_med, hi: L2_hi, lo: L2_lo}
];
var rightPanels = [
  {label: '9 &lt;= MMI &lt; Inf, 6 records', bands: [], recs: R9_recs, rc: '#ff2a10', med: R9_med, hi: R9_hi, lo: R9_lo},
  {label: '8 &lt;= MMI &lt; 9, 48 records', bands: [{d: R8_band, c: '#ff5a00', ca: 0.8, ta: 0.5}], recs: [], med: R8_med, hi: R8_hi, lo: R8_lo},
  {label: '7 &lt;= MMI &lt; 8, 131 records', bands: [{d: R7_band, c: '#ffa200', ca: 0.88, ta: 0.55}], recs: [], med: R7_med, hi: R7_hi, lo: R7_lo},
  {label: '6 &lt;= MMI &lt; 7, 391 records', bands: [{d: R6_band, c: '#ffd200', ca: 0.92, ta: 0.5}], recs: [], med: R6_med, hi: R6_hi, lo: R6_lo},
  {label: '5 &lt;= MMI &lt; 6, 859 records', bands: [{d: R5_band, c: '#ecd600', ca: 0.9, ta: 0.6}], recs: [], med: R5_med, hi: R5_hi, lo: R5_lo},
  {label: '4 &lt;= MMI &lt; 5, 2174 records', bands: [{d: R4_bandA, c: '#6fd3de', ca: 0.8, ta: 0.8}, {d: R4_bandB, c: '#7cc68b', ca: 0.92, ta: 0.65}], recs: [], med: R4_med, hi: R4_hi, lo: R4_lo},
  {label: '3 &lt;= MMI &lt; 4, 6404 records', bands: [{d: R3_band, c: '#79d7e8', ca: 0.95, ta: 0.6}], recs: [], med: R3_med, hi: R3_hi, lo: R3_lo},
  {label: '2 &lt;= MMI &lt; 3, 4757 records', bands: [{d: R2_band, c: '#8edcf3', ca: 0.95, ta: 0.5}], recs: [], med: R2_med, hi: R2_hi, lo: R2_lo}
];

[leftPanels, rightPanels].forEach(function (panels, ci) {
  panels.forEach(function (p, i) {
    var ds = [];
    p.bands.forEach(function (b) { ds = ds.concat(bandSets(b)); });
    p.recs.forEach(function (r) { ds.push(line(r, p.rc, 1.2, 6)); });
    ds = ds.concat(refSets());
    ds.push(line(p.hi, '#333333', 1, 2));
    ds.push(line(p.lo, '#333333', 1, 2));
    ds.push(line(p.med, '#1e1e1e', 2.6, 1));
    panelChart(colLefts[ci], panelTops[i], 70, false, ds);
    addLabel(colLefts[ci] + 50, panelTops[i] + 1, p.label, 'lbl');
  });
});

// medians panels
var medColors = ['#a8dbf3', '#82d4ea', '#72c8ad', '#b2cb2f', '#ffd900', '#ffa500', '#ff6200', '#ff1800'];
var medLeft = [ML2, ML3, ML4, ML5, ML6, ML7, ML8, ML9];
var medRight = [MR2, MR3, MR4, MR5, MR6, MR7, MR8, MR9];
[medLeft, medRight].forEach(function (series, ci) {
  var ds = refSets();
  series.forEach(function (s, k) {
    var d = line(s, medColors[k], 2.3, 1);
    d.label = medLabels[k];
    ds.push(d);
  });
  panelChart(colLefts[ci], 813, 171, true, ds);
  addLabel(colLefts[ci] + 50, 828, 'Medians', 'lbl');
  addLabel(colLefts[ci] + 293, 1004, 'Time rel. to t<sub>MMI ≥ 4</sub> [s]', 'xt');
});

// colour bar
(function () {
  var cv = addCanvas(1130, 5, 89, 790);
  new Chart(cv, {
    type: 'bar',
    data: {
      labels: ['MMI'],
      datasets: [{
        data: [[0, 10]],
        backgroundColor: function (ctx) {
          var ch = ctx.chart;
          if (!ch.chartArea) return null;
          var y = ch.scales.y;
          var g = ch.ctx.createLinearGradient(0, y.getPixelForValue(0), 0, y.getPixelForValue(10));
          cmapVals.forEach(function (v, i) { g.addColorStop(v / 10, cmapColors[i]); });
          return g;
        },
        borderColor: '#8a8a8a', borderWidth: 1, borderSkipped: false,
        barPercentage: 1, categoryPercentage: 1
      }]
    },
    options: {
      responsive: false, animation: false, events: [],
      layout: {padding: {top: 10, right: 0, left: 6, bottom: 12}},
      plugins: {legend: {display: false}, tooltip: {enabled: false}},
      scales: {
        x: {display: false},
        y: {
          position: 'right', min: 0, max: 10,
          afterFit: function (s) { s.width = 62; },
          grid: {display: false}, border: {display: false},
          ticks: {stepSize: 1, autoSkip: false, font: {size: 17}, padding: 6}
        }
      }
    }
  });
})();
addLabel(1205, 380, 'MMI<sub>obs</sub>', 'cbt');
</script>
</body>
</html>
